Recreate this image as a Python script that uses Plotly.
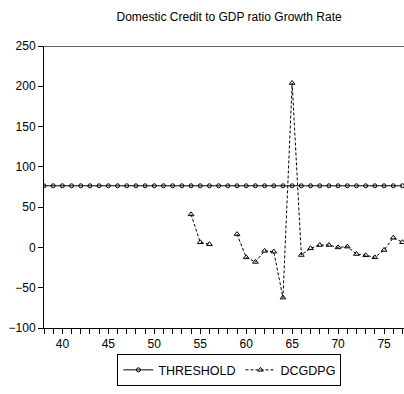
import plotly.graph_objects as go

# Observation index (years 38..77)
periods = list(range(38, 78))

# Constant threshold level
threshold_level = 76.5
threshold = [threshold_level] * len(periods)

# Domestic credit to GDP ratio growth rate (None = missing observation)
dcgdpg_by_period = {
    54: 41.0, 55: 6.3, 56: 4.0,
    59: 16.5, 60: -12.3, 61: -18.0, 62: -4.3, 63: -5.2, 64: -62.3,
    65: 204.0, 66: -9.4, 67: -1.1, 68: 3.0, 69: 3.0, 70: 0.0,
    71: 1.0, 72: -8.2, 73: -9.8, 74: -12.3, 75: -3.2, 76: 12.0, 77: 6.5,
}
dcgdpg = [dcgdpg_by_period.get(p) for p in periods]

FONT = "Liberation Sans, Arial, sans-serif"

fig = go.Figure()
fig.add_trace(go.Scatter(
    x=periods, y=threshold, name="THRESHOLD", mode="lines+markers",
    line=dict(color="black", width=1),
    marker=dict(symbol="circle-open", size=4, color="black", line=dict(width=1)),
))
fig.add_trace(go.Scatter(
    x=periods, y=dcgdpg, name="DCGDPG", mode="lines+markers",
    connectgaps=False,
    line=dict(color="black", width=1, dash="3px,2px"),
    marker=dict(symbol="triangle-up-open", size=5, color="black", line=dict(width=1)),
))

# Top frame line at the upper axis limit
fig.add_shape(type="line", xref="paper", yref="y", x0=0, x1=1, y0=250, y1=250,
              line=dict(color="#333", width=1.5))

fig.update_layout(
    width=404, height=394,
    margin=dict(l=44, r=0, t=46, b=66),
    paper_bgcolor="white", plot_bgcolor="white",
    font=dict(family=FONT, size=12, color="black"),
    title=dict(text="Domestic Credit to GDP ratio Growth Rate",
               x=0.567, xref="container", xanchor="center",
               y=1 - 17 / 394, yref="container", yanchor="middle",
               font=dict(family=FONT, size=12, color="black")),
    showlegend=True,
    legend=dict(orientation="h", x=0.515, xanchor="center", y=-0.093, yanchor="top",
                bordercolor="black", borderwidth=1, bgcolor="white",
                font=dict(family=FONT, size=12.5, color="black")),
    xaxis=dict(range=[38, 77.17], showgrid=False, zeroline=False,
               showline=True, linecolor="black", linewidth=1,
               ticks="outside", ticklen=5, tickcolor="black", tickwidth=1,
               tick0=40, dtick=5,
               minor=dict(ticks="outside", ticklen=5, tickcolor="black", dtick=1, tick0=38),
               tickfont=dict(family=FONT, size=12)),
    yaxis=dict(range=[-100, 250], showgrid=False, zeroline=False,
               showline=True, linecolor="black", linewidth=1,
               ticks="outside", ticklen=5, tickcolor="black", tickwidth=1,
               tick0=0, dtick=50,
               tickfont=dict(family=FONT, size=12)),
)

fig.write_html("out.html")
